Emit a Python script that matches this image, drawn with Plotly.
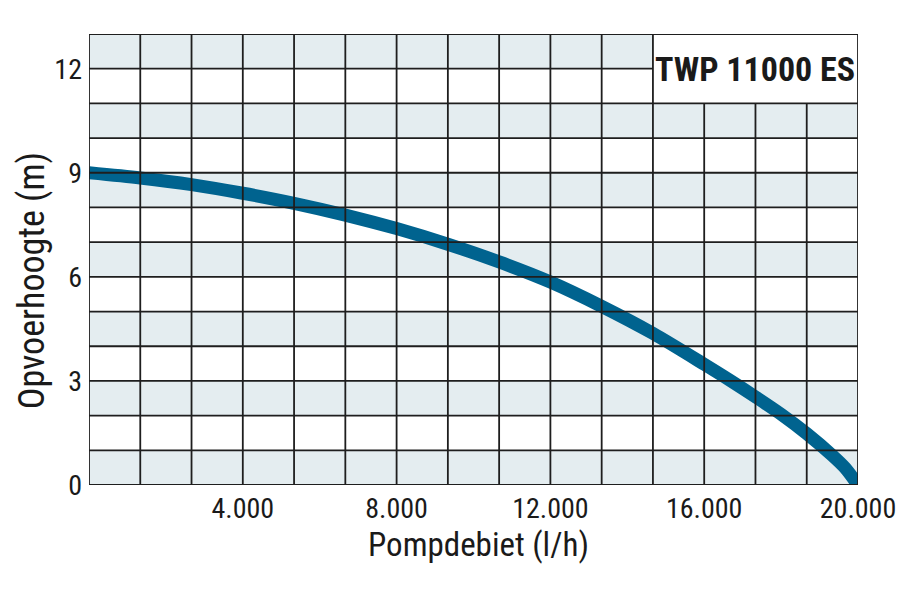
import plotly.graph_objects as go

# Data
flow = [0, 1333, 2667, 4000, 5333, 6667, 8000, 9333, 10667, 12000, 13333,
        14667, 16000, 16667, 17333, 18000, 18667, 19333, 19667, 20000]
head = [9.0, 8.85, 8.66, 8.41, 8.12, 7.78, 7.39, 6.94, 6.43, 5.85, 5.15,
        4.37, 3.48, 3.02, 2.54, 2.04, 1.48, 0.85, 0.49, 0.0]

x_tickvals = [4000, 8000, 12000, 16000, 20000]
x_ticktext = ["4.000", "8.000", "12.000", "16.000", "20.000"]
y_tickvals = [0, 3, 6, 9, 12]
y_ticktext = ["0", "3", "6", "9", "12"]

title_text = "TWP 11000 ES"
x_title = "Pompdebiet (l/h)"
y_title = "Opvoerhoogte (m)"

X_MAX = 20000
Y_MAX = 13
N_COLS = 15

FONT = "Roboto Condensed, DejaVu Sans Condensed, sans-serif"
BAND = "#e4edf0"
GRID = "#1e1e1e"
CURVE = "#00638f"
TEXT = "#1a1a1a"

shapes = []
# alternating horizontal bands
for r in range(0, Y_MAX, 2):
    shapes.append(dict(type="rect", xref="x", yref="y", x0=0, x1=X_MAX, y0=r, y1=r + 1,
                       fillcolor=BAND, line=dict(width=0), layer="below"))
# title box (white)
col_w = X_MAX / N_COLS
shapes.append(dict(type="rect", xref="x", yref="y", x0=11 * col_w, x1=X_MAX, y0=11, y1=13,
                   fillcolor="white", line=dict(width=0), layer="above"))
# grid lines above the curve
for c in range(N_COLS + 1):
    xv = c * col_w
    y_top = 11 if 11 * col_w + 1 < xv < X_MAX - 1 else Y_MAX
    shapes.append(dict(type="line", xref="x", yref="y", x0=xv, x1=xv, y0=0, y1=y_top,
                       line=dict(color=GRID, width=1.8), layer="above"))
for r in range(Y_MAX + 1):
    x_right = 11 * col_w if r == 12 else X_MAX
    shapes.append(dict(type="line", xref="x", yref="y", x0=0, x1=x_right, y0=r, y1=r,
                       line=dict(color=GRID, width=1.8), layer="above"))

fig = go.Figure()
fig.add_trace(go.Scatter(x=flow, y=head, mode="lines",
                         line=dict(color=CURVE, width=13, shape="spline", smoothing=0.8),
                         hoverinfo="skip", showlegend=False))

fig.update_layout(
    width=900, height=600,
    margin=dict(l=89, r=42, t=34, b=115),
    paper_bgcolor="white", plot_bgcolor="white",
    shapes=shapes,
    font=dict(family=FONT, color=TEXT, size=28),
    xaxis=dict(range=[0, X_MAX], tickvals=x_tickvals, ticktext=x_ticktext,
               showgrid=False, zeroline=False, showline=False, ticks="",
               tickfont=dict(size=28), ticklabelstandoff=4, ticklabeloverflow="allow",
               automargin=False),
    yaxis=dict(range=[0, Y_MAX], tickvals=y_tickvals, ticktext=y_ticktext,
               showgrid=False, zeroline=False, showline=False, ticks="",
               tickfont=dict(size=28), ticklabelstandoff=6, automargin=False),
    annotations=[
        dict(text="<b>" + title_text + "</b>", xref="x", yref="y",
             x=(11 * col_w + X_MAX) / 2, y=12, showarrow=False,
             font=dict(family=FONT, size=34, color=TEXT)),
        dict(text=x_title, xref="paper", yref="paper", x=0.507, y=-0.133,
             xanchor="center", yanchor="middle", showarrow=False,
             font=dict(family=FONT, size=33, color=TEXT)),
        dict(text=y_title, xref="paper", yref="paper", x=-0.074, y=0.452,
             xanchor="center", yanchor="middle", textangle=-90, showarrow=False,
             font=dict(family=FONT, size=36, color=TEXT)),
    ],
)

fig.write_html("out.html")
